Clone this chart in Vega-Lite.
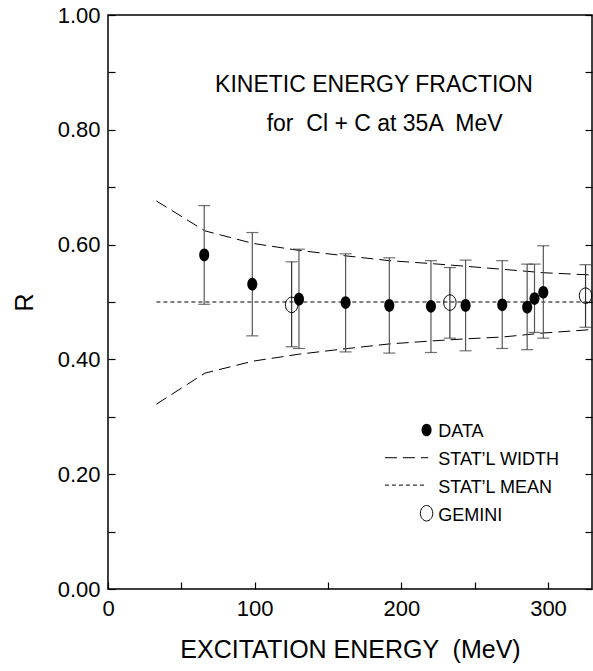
{
  "$schema": "https://vega.github.io/schema/vega-lite/v6.json",
  "width": 484,
  "height": 574,
  "autosize": "none",
  "padding": {"left": 108, "top": 15, "right": 1, "bottom": 82},
  "background": "white",
  "config": {
    "view": {"stroke": "black", "strokeWidth": 1.5},
    "axis": {
      "grid": false, "domain": false, "tickColor": "black", "tickWidth": 1.2, "tickSize": -7,
      "labelFont": "Liberation Sans", "labelFontSize": 22, "labelColor": "black",
      "labelOverlap": false, "labelFlush": false, "labelBound": false,
      "titleFont": "Liberation Sans", "titleFontSize": 25, "titleFontWeight": "normal", "titleColor": "black"
    },
    "axisX": {"labelPadding": 16, "titlePadding": 18},
    "axisY": {"labelPadding": 15, "titlePadding": 20}
  },
  "datasets": {
    "points": [
      {"E": 65.6, "R": 0.582, "lo": 0.496, "hi": 0.668},
      {"E": 98.4, "R": 0.531, "lo": 0.441, "hi": 0.621},
      {"E": 130.2, "R": 0.505, "lo": 0.419, "hi": 0.592},
      {"E": 162.0, "R": 0.499, "lo": 0.413, "hi": 0.584},
      {"E": 191.8, "R": 0.494, "lo": 0.411, "hi": 0.577},
      {"E": 220.2, "R": 0.4925, "lo": 0.412, "hi": 0.572},
      {"E": 243.8, "R": 0.494, "lo": 0.415, "hi": 0.573},
      {"E": 268.8, "R": 0.495, "lo": 0.419, "hi": 0.572},
      {"E": 285.8, "R": 0.491, "lo": 0.417, "hi": 0.566},
      {"E": 290.8, "R": 0.506, "lo": 0.447, "hi": 0.566},
      {"E": 296.8, "R": 0.517, "lo": 0.437, "hi": 0.598}
    ],
    "gemini": [
      {"E": 125.2, "R": 0.495, "lo": 0.422, "hi": 0.570},
      {"E": 233.1, "R": 0.499, "lo": 0.437, "hi": 0.560},
      {"E": 325.6, "R": 0.511, "lo": 0.456, "hi": 0.565}
    ],
    "widthCurves": [
      {"E": 33, "R": 0.676, "k": "upper"},
      {"E": 66, "R": 0.624, "k": "upper"},
      {"E": 99, "R": 0.602, "k": "upper"},
      {"E": 130, "R": 0.590, "k": "upper"},
      {"E": 160, "R": 0.581, "k": "upper"},
      {"E": 192, "R": 0.572, "k": "upper"},
      {"E": 220, "R": 0.567, "k": "upper"},
      {"E": 245, "R": 0.562, "k": "upper"},
      {"E": 269, "R": 0.557, "k": "upper"},
      {"E": 297, "R": 0.551, "k": "upper"},
      {"E": 330, "R": 0.547, "k": "upper"},
      {"E": 33, "R": 0.322, "k": "lower"},
      {"E": 66, "R": 0.376, "k": "lower"},
      {"E": 99, "R": 0.397, "k": "lower"},
      {"E": 130, "R": 0.409, "k": "lower"},
      {"E": 160, "R": 0.418, "k": "lower"},
      {"E": 192, "R": 0.427, "k": "lower"},
      {"E": 220, "R": 0.432, "k": "lower"},
      {"E": 245, "R": 0.436, "k": "lower"},
      {"E": 269, "R": 0.439, "k": "lower"},
      {"E": 297, "R": 0.446, "k": "lower"},
      {"E": 330, "R": 0.452, "k": "lower"},
      {"E": 188.8, "R": 0.2287, "k": "legend"},
      {"E": 218.3, "R": 0.2287, "k": "legend"}
    ],
    "meanLine": [
      {"E": 33, "R": 0.5, "k": "mean"},
      {"E": 330, "R": 0.5, "k": "mean"},
      {"E": 188.8, "R": 0.181, "k": "legend"},
      {"E": 216.5, "R": 0.181, "k": "legend"}
    ],
    "legendData": [{"E": 217.2, "R": 0.277}],
    "legendGemini": [{"E": 217.2, "R": 0.132}],
    "titleText": [
      {"E": 73, "R": 0.866, "text": "KINETIC ENERGY FRACTION"},
      {"E": 108.2, "R": 0.798, "text": "for \u00a0Cl + C at 35A \u00a0MeV"}
    ],
    "legendText": [
      {"E": 225.2, "R": 0.264, "text": "DATA"},
      {"E": 225.2, "R": 0.216, "text": "STAT\u2019L WIDTH"},
      {"E": 225.2, "R": 0.1667, "text": "STAT\u2019L MEAN"},
      {"E": 225.2, "R": 0.118, "text": "GEMINI"}
    ]
  },
  "resolve": {"axis": {"y": "independent"}},
  "layer": [
    {
      "data": {"name": "widthCurves"},
      "mark": {"type": "line", "color": "black", "strokeWidth": 1, "strokeDash": [12, 6]},
      "encoding": {
        "x": {"field": "E", "type": "quantitative", "scale": {"domain": [0, 330], "nice": false}, "title": "EXCITATION ENERGY \u00a0(MeV)",
          "axis": {"values": [0, 50, 100, 150, 200, 250, 300], "labelExpr": "datum.value % 100 == 0 ? datum.label : ''"}},
        "y": {"field": "R", "type": "quantitative", "scale": {"domain": [0, 1], "nice": false}, "title": "R",
          "axis": {"orient": "left", "values": [0, 0.1, 0.2, 0.3, 0.4, 0.5, 0.6, 0.7, 0.8, 0.9, 1.0],
            "labelExpr": "round(datum.value*10) % 2 == 0 ? format(datum.value, '.2f') : ''"}},
        "detail": {"field": "k"}
      }
    },
    {
      "data": {"name": "meanLine"},
      "mark": {"type": "line", "color": "black", "strokeWidth": 1, "strokeDash": [4, 3]},
      "encoding": {
        "x": {"field": "E", "type": "quantitative"},
        "y": {"field": "R", "type": "quantitative", "axis": {"orient": "right", "labels": false, "title": null, "values": [0, 0.1, 0.2, 0.3, 0.4, 0.5, 0.6, 0.7, 0.8, 0.9, 1.0]}},
        "detail": {"field": "k"}
      }
    },
    {
      "data": {"name": "points"},
      "mark": {"type": "rule", "color": "#555", "strokeWidth": 1.2},
      "encoding": {
        "x": {"field": "E", "type": "quantitative"},
        "y": {"field": "lo", "type": "quantitative", "axis": null},
        "y2": {"field": "hi"}
      }
    },
    {
      "data": {"name": "gemini"},
      "mark": {"type": "rule", "color": "#333", "strokeWidth": 1.2},
      "encoding": {
        "x": {"field": "E", "type": "quantitative"},
        "y": {"field": "lo", "type": "quantitative", "axis": null},
        "y2": {"field": "hi"}
      }
    },
    {
      "data": {"name": "points"},
      "mark": {"type": "tick", "orient": "horizontal", "color": "#333", "size": 12, "thickness": 1.2},
      "encoding": {
        "x": {"field": "E", "type": "quantitative"},
        "y": {"field": "lo", "type": "quantitative", "axis": null}
      }
    },
    {
      "data": {"name": "points"},
      "mark": {"type": "tick", "orient": "horizontal", "color": "#333", "size": 12, "thickness": 1.2},
      "encoding": {
        "x": {"field": "E", "type": "quantitative"},
        "y": {"field": "hi", "type": "quantitative", "axis": null}
      }
    },
    {
      "data": {"name": "gemini"},
      "mark": {"type": "tick", "orient": "horizontal", "color": "#333", "size": 12, "thickness": 1.2},
      "encoding": {
        "x": {"field": "E", "type": "quantitative"},
        "y": {"field": "lo", "type": "quantitative", "axis": null}
      }
    },
    {
      "data": {"name": "gemini"},
      "mark": {"type": "tick", "orient": "horizontal", "color": "#333", "size": 12, "thickness": 1.2},
      "encoding": {
        "x": {"field": "E", "type": "quantitative"},
        "y": {"field": "hi", "type": "quantitative", "axis": null}
      }
    },
    {
      "data": {"name": "points"},
      "mark": {"type": "point", "shape": "M-0.79,0A0.79,1,0,1,1,0.79,0A0.79,1,0,1,1,-0.79,0Z", "filled": true, "color": "black", "opacity": 1, "size": 161},
      "encoding": {
        "x": {"field": "E", "type": "quantitative"},
        "y": {"field": "R", "type": "quantitative", "axis": null}
      }
    },
    {
      "data": {"name": "legendData"},
      "mark": {"type": "point", "shape": "M-0.79,0A0.79,1,0,1,1,0.79,0A0.79,1,0,1,1,-0.79,0Z", "filled": true, "color": "black", "opacity": 1, "size": 161},
      "encoding": {
        "x": {"field": "E", "type": "quantitative"},
        "y": {"field": "R", "type": "quantitative", "axis": null}
      }
    },
    {
      "data": {"name": "gemini"},
      "mark": {"type": "point", "shape": "M-0.8,0A0.8,1,0,1,1,0.8,0A0.8,1,0,1,1,-0.8,0Z", "filled": false, "stroke": "black", "strokeWidth": 1, "opacity": 1, "size": 240},
      "encoding": {
        "x": {"field": "E", "type": "quantitative"},
        "y": {"field": "R", "type": "quantitative", "axis": null}
      }
    },
    {
      "data": {"name": "legendGemini"},
      "mark": {"type": "point", "shape": "M-0.8,0A0.8,1,0,1,1,0.8,0A0.8,1,0,1,1,-0.8,0Z", "filled": false, "stroke": "black", "strokeWidth": 1, "opacity": 1, "size": 240},
      "encoding": {
        "x": {"field": "E", "type": "quantitative"},
        "y": {"field": "R", "type": "quantitative", "axis": null}
      }
    },
    {
      "data": {"name": "titleText"},
      "mark": {"type": "text", "align": "left", "baseline": "alphabetic", "font": "Liberation Sans", "fontSize": 23, "color": "black"},
      "encoding": {
        "x": {"field": "E", "type": "quantitative"},
        "y": {"field": "R", "type": "quantitative", "axis": null},
        "text": {"field": "text"}
      }
    },
    {
      "data": {"name": "legendText"},
      "mark": {"type": "text", "align": "left", "baseline": "alphabetic", "font": "Liberation Sans", "fontSize": 18, "color": "black"},
      "encoding": {
        "x": {"field": "E", "type": "quantitative"},
        "y": {"field": "R", "type": "quantitative", "axis": null},
        "text": {"field": "text"}
      }
    }
  ]
}
